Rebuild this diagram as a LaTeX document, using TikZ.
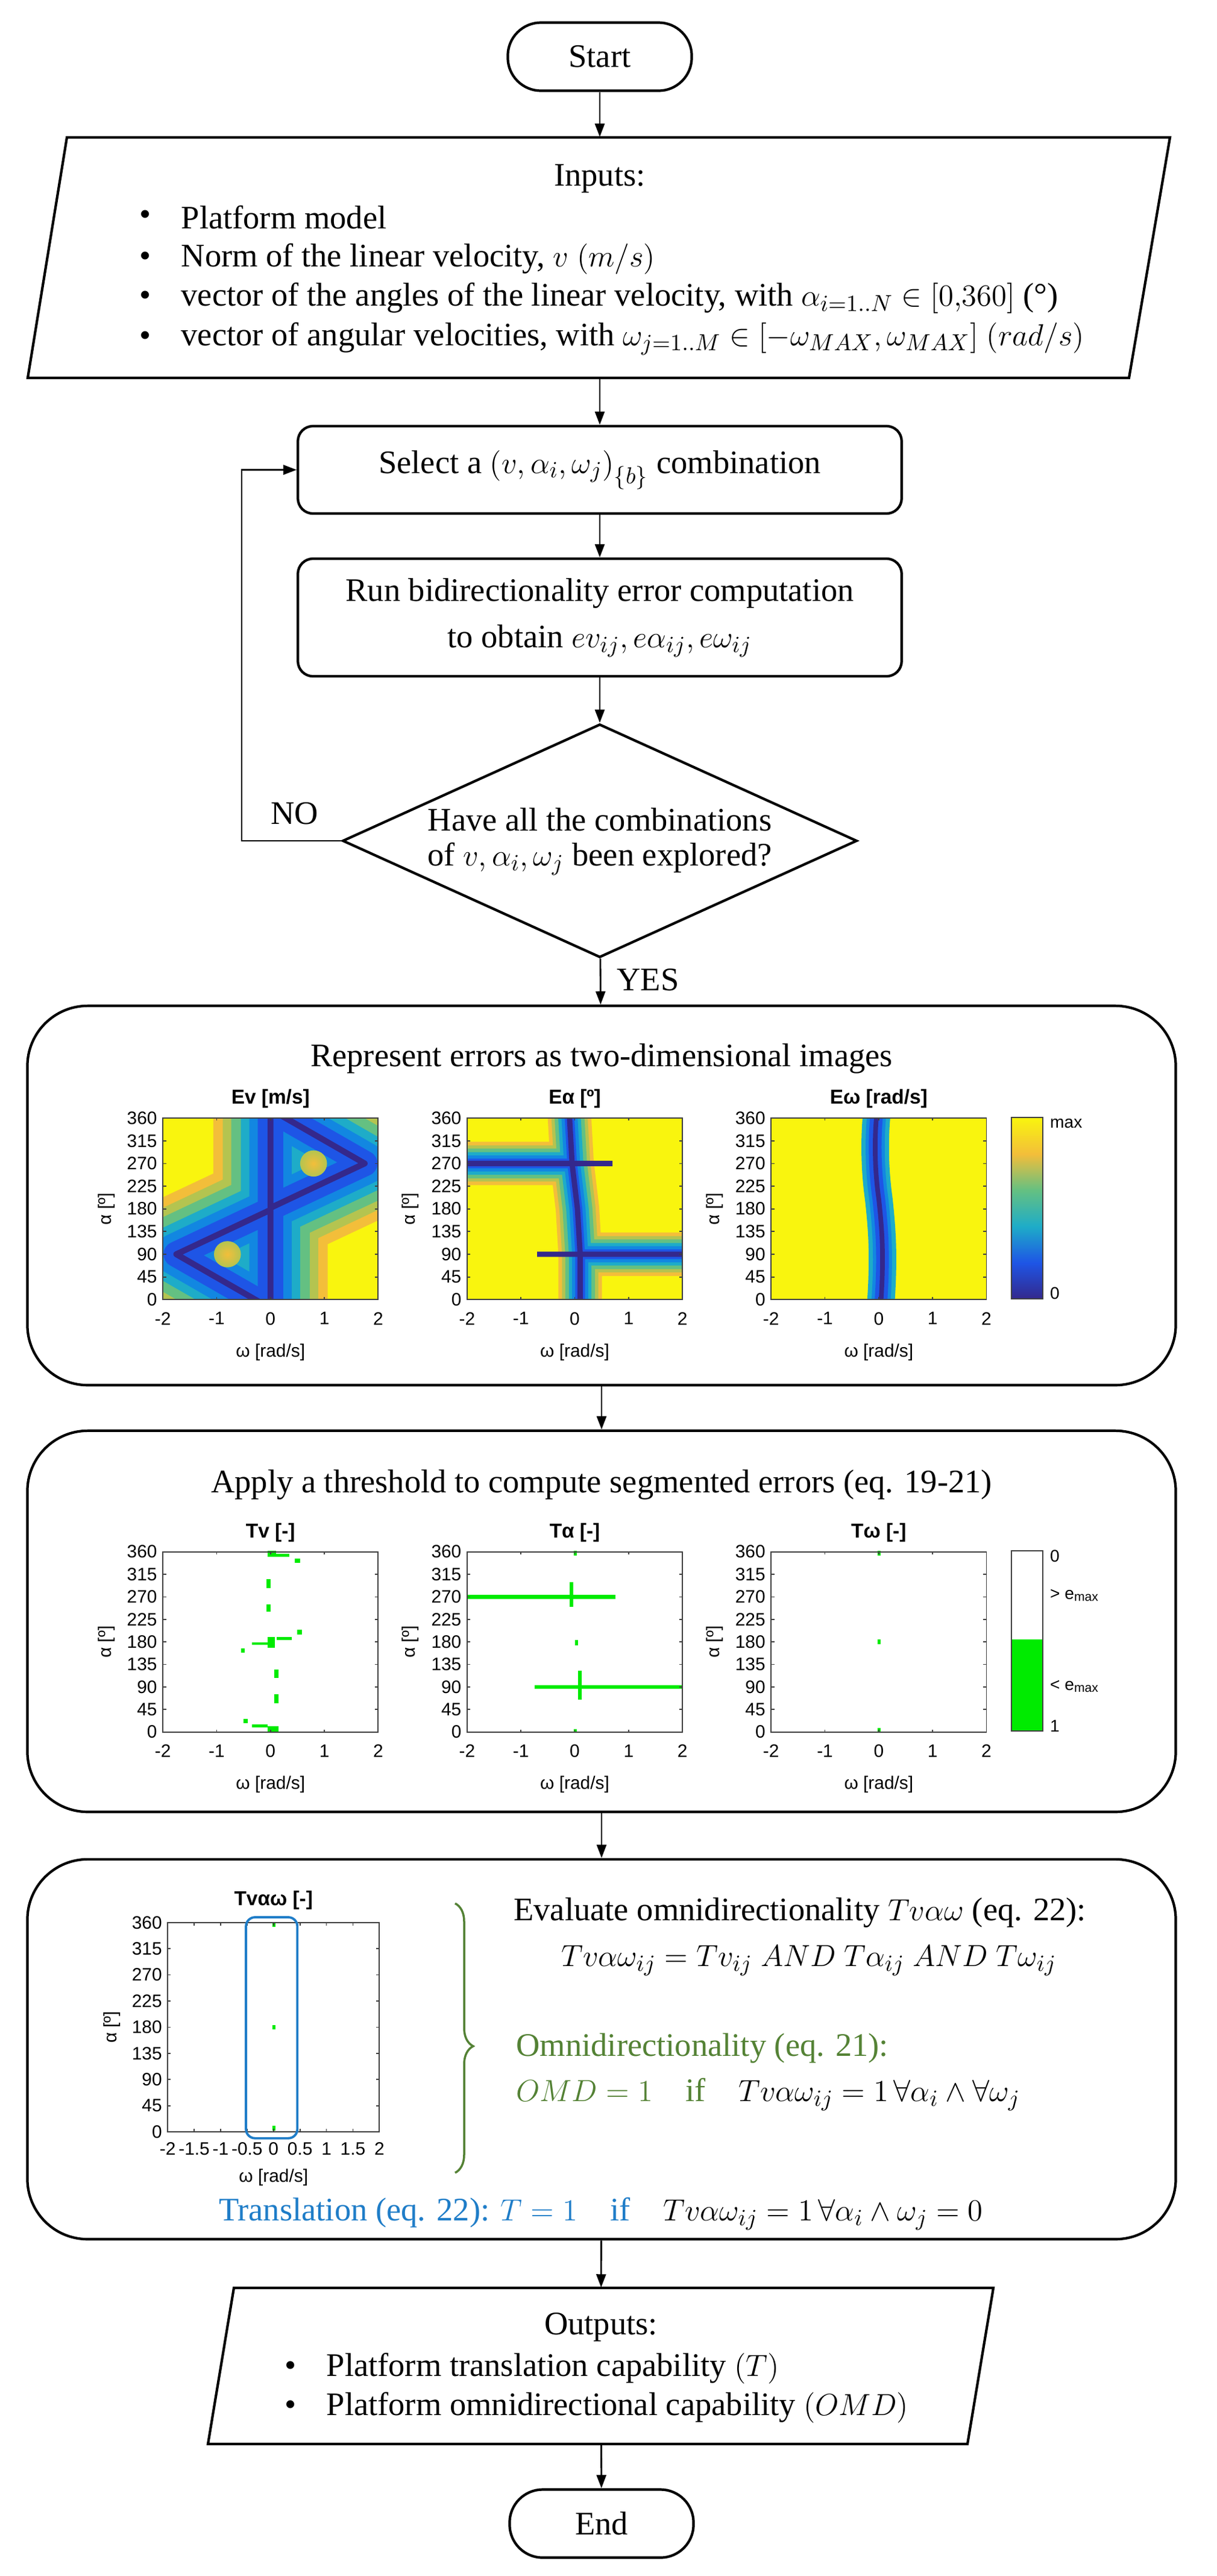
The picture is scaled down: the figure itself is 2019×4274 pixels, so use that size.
\documentclass[tikz,border=0pt]{standalone}
\usepackage{fontspec}
\setmainfont{Liberation Serif}
\newfontfamily\axfont{Liberation Sans}
\usetikzlibrary{arrows.meta,shapes.geometric,decorations.pathreplacing}
\definecolor{hA}{RGB}{243,190,58}
\definecolor{hB}{RGB}{180,196,80}
\definecolor{hC}{RGB}{100,192,130}
\definecolor{hD}{RGB}{30,172,200}
\definecolor{hE}{RGB}{18,135,225}
\definecolor{hF}{RGB}{30,85,230}
\definecolor{pNavy}{RGB}{52,40,140}
\definecolor{pYel}{RGB}{249,245,14}
\definecolor{tgreen}{RGB}{0,235,0}
\definecolor{olive}{RGB}{84,130,53}
\definecolor{tblue}{RGB}{31,125,200}
\tikzset{
  every node/.style={font=\fontsize{15.5}{20}\selectfont},
  box/.style={draw,line width=1.2pt,rounded corners=0.25cm,minimum width=10.01cm},
  term/.style={draw,line width=1.2pt,rounded corners=0.55cm,minimum width=3.05cm,minimum height=1.13cm},
  panel/.style={draw,line width=1.2pt,rounded corners=1cm,minimum width=19.04cm},
  arr/.style={line width=0.8pt,-{Triangle[length=0.22cm,width=0.16cm]}},
  axln/.style={draw=black!75,line width=0.5pt},
  tick/.style={font=\axfont\fontsize{8.5}{9}\selectfont,inner sep=1pt},
  ttl/.style={font=\axfont\bfseries\fontsize{9.5}{10}\selectfont,inner sep=1pt},
  lbl/.style={font=\axfont\fontsize{8}{9}\selectfont,inner sep=1pt}
}
% #1 title, #2 x ticks, #3 tick label offset, #4 xlabel offset
\newcommand\axesbox[4]{%
  \draw[axln] (-2,0) rectangle (2,360);
  \foreach \a in {0,45,...,360}{\draw[axln] (-2,\a)--++(0.06,0) (2,\a)--++(-0.06,0);
    \node[tick,anchor=east] at (-2.06,\a) {\a};}
  \foreach \w in {#2}{\draw[axln] (\w,0)--++(0,5) (\w,360)--++(0,-5);
    \node[tick,anchor=north] at (\w,#3) {\w};}
  \node[tick] at (0,#4) {ω [rad/s]};
  \node[tick,rotate=90] at (-3.05,180) {α [º]};
  \node[ttl] at (0,398) {#1};
}
\newcommand\layers[2]{%
  \foreach \col/\wd in {hA/54,hB/45,hC/37,hD/28,hE/20,hF/12}{%
    \pgfmathsetmacro\lw{#2*\wd}%
    \draw[\col,line width=\lw pt,line cap=round,line join=round] #1;}
}
\newcommand\evpath{(0,-5)--(0,365) (0,182)--(1.75,270)--(0.2,365) (0,178)--(-1.75,90)--(-0.2,-5)}
\newcommand\eahalo{(-0.1,365)--(-0.05,270)--(0.05,180)--(0.1,90)--(0.1,-5) (-2.1,270)--(-0.05,270) (0.1,90)--(2.1,90)}
\newcommand\eanavy{(-0.1,365)--(-0.05,270)--(0.05,180)--(0.1,90)--(0.1,-5) (-2.1,270)--(0.7,270) (-0.7,90)--(2.1,90)}
\newcommand\ewpath{(0.04,-5) .. controls (0.1,90) and (0.06,140) .. (0,200) .. controls (-0.08,260) and (-0.08,320) .. (-0.04,365)}
\newcommand\gr[4]{\fill[tgreen] (#1,#2) rectangle (#3,#4);}
\begin{document}
\begin{tikzpicture}[x=0.01cm,y=-0.01cm]
\useasboundingbox[fill=white] (0,0) rectangle (2019,4274);
% ---------- flow nodes
\node[term] (start) at (995,94) {Start};
\node[minimum width=18.3cm,minimum height=3.99cm] (inputs) at (995,427.5) {};
\draw[line width=1.2pt] (111,228)--(1941,228)--(1873,627)--(46,627)--cycle;
\node (intitle) at (995,296) {Inputs:};
\foreach \yy/\tx [count=\k] in {361/{Platform model},430/{Norm of the linear velocity, $v$ $(m/s)$},495/{vector of the angles of the linear velocity, with $\alpha_{i=1..N}\in[0{,}360]$ (°)},562/{vector of angular velocities, with $\omega_{j=1..M}\in[-\omega_{MAX},\omega_{MAX}]$ $(rad/s)$}}{
  \node (ib\k) at (241,\yy) {•};
  \node[anchor=west,inner sep=0pt] (it\k) at (300,\yy) {\tx};
}
\node[box,minimum height=1.45cm] (sel) at (995,779.5) {Select a $\left(v,\alpha_i,\omega_j\right)_{\{b\}}$ combination};
\node[box,minimum height=1.95cm,align=center] (run) at (995,1024.5) {Run bidirectionality error computation\\[2pt] to obtain $ev_{ij},e\alpha_{ij},e\omega_{ij}$};
\node[draw,line width=1.2pt,diamond,aspect=2.2,minimum width=8.53cm,minimum height=3.87cm,inner sep=0pt] (dia) at (995,1395) {};
\node (dt1) at (995,1360) {Have all the combinations};
\node (dt2) at (995,1425) {of $v,\alpha_i,\omega_j$ been explored?};
\coordinate (loopc) at (401,1395);
\node (no) at (489,1350) {NO};
\node (yes) at (1075,1626) {YES};
\node[panel,minimum height=6.29cm] (p1) at (998,1983.5) {};
\node[panel,minimum height=6.32cm] (p2) at (998,2690) {};
\node[panel,minimum height=6.30cm] (p3) at (998,3400) {};
\node[minimum width=12.6cm,minimum height=2.59cm] (outputs) at (997,3925.5) {};
\draw[line width=1.2pt] (388,3796)--(1648,3796)--(1605,4055)--(345,4055)--cycle;
\node[term] (end) at (998,4187) {End};
% ---------- connectors
\draw[arr] (start) -- (inputs);
\draw[arr] (inputs) -- (sel);
\draw[arr] (sel) -- (run);
\draw[arr] (run) -- (dia);
\draw[arr] (dia.west) -- (loopc) |- (sel.west);
\draw[arr] (dia) -- (p1);
\draw[arr] (p1) -- (p2);
\draw[arr] (p2) -- (p3);
\draw[arr] (p3) -- (outputs);
\draw[arr] (outputs) -- (end);
% ---------- panel 1
\node (t1) at (998,1756) {Represent errors as two-dimensional images};
\begin{scope}[shift={(4.485cm,-21.55cm)},x=0.8925cm,y=0.008361cm]
  \begin{scope}\clip (-2,0) rectangle (2,360);
   \fill[pYel] (-2,0) rectangle (2,360);
   \layers{\evpath}{1}
   \shade[inner color=hA,outer color=hB] (0.8,270) ellipse (0.25 and 26);
   \shade[inner color=hA,outer color=hB] (-0.8,90) ellipse (0.25 and 26);
   \draw[pNavy,line width=2.8pt,line join=round] \evpath;
  \end{scope}
  \axesbox{Ev [m/s]}{-2,-1,0,1,2}{-20}{-105}
\end{scope}
\begin{scope}[shift={(9.53cm,-21.55cm)},x=0.8925cm,y=0.008361cm]
  \begin{scope}\clip (-2,0) rectangle (2,360);
   \fill[pYel] (-2,0) rectangle (2,360);
   \layers{\eahalo}{0.38}
   \draw[pNavy,line width=2.5pt] \eanavy;
  \end{scope}
  \axesbox{Eα [º]}{-2,-1,0,1,2}{-20}{-105}
\end{scope}
\begin{scope}[shift={(14.57cm,-21.55cm)},x=0.8925cm,y=0.008361cm]
  \begin{scope}\clip (-2,0) rectangle (2,360);
   \fill[pYel] (-2,0) rectangle (2,360);
   \foreach \col/\wd in {hD/13,hE/9,hF/6}{\draw[\col,line width=\wd pt] \ewpath;}
   \draw[pNavy,line width=2.2pt] \ewpath;
  \end{scope}
  \axesbox{Eω [rad/s]}{-2,-1,0,1,2}{-20}{-105}
\end{scope}
% colorbar 1
\shade[bottom color=pNavy,top color=hF] (1678,2155) rectangle (1730,2095);
\shade[bottom color=hF,top color=hD] (1678,2095) rectangle (1730,2035);
\shade[bottom color=hD,top color=hC] (1678,2035) rectangle (1730,1975);
\shade[bottom color=hC,top color=hA] (1678,1975) rectangle (1730,1915);
\shade[bottom color=hA,top color=pYel] (1678,1915) rectangle (1730,1854);
\draw[axln] (1678,1854) rectangle (1730,2155);
\node[lbl,anchor=north west] (cmax) at (1738,1852) {max};
\node[lbl,anchor=south west] (cmin) at (1738,2160) {0};
% ---------- panel 2
\node (t2) at (998,2463) {Apply a threshold to compute segmented errors (eq. 19-21)};
\begin{scope}[shift={(4.485cm,-28.72cm)},x=0.8925cm,y=0.0083cm]
  \gr{-0.05}{350}{0.1}{362}\gr{0.1}{350}{0.35}{356}\gr{0.45}{338}{0.55}{347}
  \gr{-0.08}{288}{0}{305}\gr{-0.08}{240}{0}{255}\gr{0.5}{195}{0.58}{204}
  \gr{0.12}{184}{0.4}{190}\gr{-0.05}{168}{0.08}{190}\gr{-0.35}{174}{-0.05}{179}
  \gr{-0.55}{158}{-0.48}{167}\gr{0.07}{108}{0.15}{125}\gr{0.07}{58}{0.15}{75}
  \gr{-0.5}{18}{-0.42}{26}\gr{-0.35}{9}{-0.05}{15}\gr{-0.05}{0}{0.15}{12}
  \axesbox{Tv [-]}{-2,-1,0,1,2}{-20}{-105}
\end{scope}
\begin{scope}[shift={(9.53cm,-28.72cm)},x=0.8925cm,y=0.0083cm]
  \gr{-2}{266}{0.75}{274}\gr{-0.75}{86}{2}{94}
  \gr{-0.02}{352}{0.04}{362}\gr{-0.1}{250}{-0.03}{300}\gr{0}{173}{0.06}{184}
  \gr{0.06}{65}{0.13}{122}\gr{-0.02}{0}{0.04}{6}
  \axesbox{Tα [-]}{-2,-1,0,1,2}{-20}{-105}
\end{scope}
\begin{scope}[shift={(14.57cm,-28.72cm)},x=0.8925cm,y=0.0083cm]
  \gr{-0.02}{352}{0.04}{362}\gr{-0.02}{175}{0.04}{185}\gr{-0.02}{0}{0.04}{8}
  \axesbox{Tω [-]}{-2,-1,0,1,2}{-20}{-105}
\end{scope}
% colorbar 2
\fill[tgreen] (1678,2720) rectangle (1730,2872);
\draw[axln] (1678,2573) rectangle (1730,2872);
\node[lbl,anchor=north west] (c2a) at (1738,2568) {0};
\node[lbl,anchor=west] (c2b) at (1738,2647) {> e\textsubscript{max}};
\node[lbl,anchor=west] (c2c) at (1738,2798) {< e\textsubscript{max}};
\node[lbl,anchor=south west] (c2d) at (1738,2878) {1};
% ---------- panel 3
\begin{scope}[shift={(4.535cm,-35.35cm)},x=0.8775cm,y=0.00964cm]
  \gr{-0.02}{352}{0.04}{360}\gr{-0.02}{176}{0.04}{184}\gr{-0.02}{2}{0.04}{10}
  \axesbox{Tvαω [-]}{-2,-1.5,-1,-0.5,0,0.5,1,1.5,2}{-14}{-78}
  \draw[tblue,line width=1.1pt,rounded corners=0.15cm] (-0.52,-11) rectangle (0.45,369);
\end{scope}
\draw[olive,line width=1pt,decorate,decoration={brace,amplitude=0.3cm,aspect=0.53}] (755,3158) -- (755,3605);
\node[anchor=west] (ev) at (840,3173) {Evaluate omnidirectionality $Tv\alpha\omega$ (eq. 22):};
\node (eq) at (1342,3253) {$Tv\alpha\omega_{ij} = Tv_{ij}\ AND\ T\alpha_{ij}\ AND\ T\omega_{ij}$};
\node[anchor=west,text=olive] (om) at (844,3398) {Omnidirectionality (eq. 21):};
\node[anchor=west] (omd) at (844,3475) {\textcolor{olive}{$OMD=1$\quad if}\quad $Tv\alpha\omega_{ij}=1\,\forall\alpha_i\wedge\forall\omega_j$};
\node (tr) at (997,3673) {\textcolor{tblue}{Translation (eq. 22): $T=1$\quad if}\quad $Tv\alpha\omega_{ij}=1\,\forall\alpha_i\wedge\omega_j=0$};
% ---------- outputs
\node (otitle) at (997,3861) {Outputs:};
\node (ob1) at (482,3930) {•};
\node[anchor=west,inner sep=0pt] (ot1) at (541,3930) {Platform translation capability $(T)$};
\node (ob2) at (482,3995) {•};
\node[anchor=west,inner sep=0pt] (ot2) at (541,3995) {Platform omnidirectional capability $(OMD)$};
\end{tikzpicture}
\end{document}
